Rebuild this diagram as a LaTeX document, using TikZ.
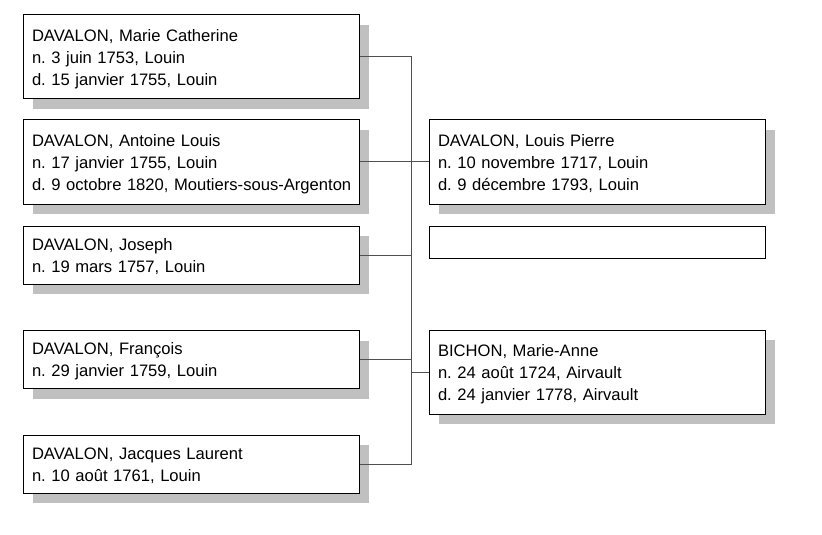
\documentclass[tikz,border=0pt]{standalone}
\usepackage{fontspec}
\setmainfont{Liberation Sans}
\usetikzlibrary{shadows}

\definecolor{shadowgray}{RGB}{192,192,192}
\definecolor{linkgray}{RGB}{80,80,80}

\tikzset{every picture/.style={line width=0.75pt}}
\tikzset{
  person/.style={draw=black, fill=white, line width=0.75pt, minimum width=252pt, text width=238.5pt,
    inner xsep=6.75pt, inner ysep=0pt, align=left,
    font=\fontsize{12.45pt}{16.5pt}\selectfont,
    execute at begin node={\frenchspacing\exhyphenpenalty=10000\hyphenpenalty=10000\rule{0pt}{12pt}}},
  shadowed/.style={drop shadow={shadow xshift=7.5pt, shadow yshift=-7.5pt, fill=shadowgray, opacity=1}},
  link/.style={draw=linkgray, line width=0.75pt},
}

\begin{document}
\begin{tikzpicture}[x=0.75pt,y=0.75pt,yscale=-1,xscale=1]
    \useasboundingbox (0,0) rectangle (822,535);

    % Children
    \node [person, shadowed, minimum height=63pt] (c1) at (191,57) {DAVALON, Marie Catherine\\n. 3 juin 1753, Louin\\d. 15 janvier 1755, Louin};
    \node [person, shadowed, minimum height=63pt] (c2) at (191,162) {DAVALON, Antoine Louis\\n. 17 janvier 1755, Louin\\\mbox{d. 9 octobre 1820, Moutiers-sous-Argenton}};
    \node [person, shadowed, minimum height=43.5pt] (c3) at (191,255) {DAVALON, Joseph\\n. 19 mars 1757, Louin};
    \node [person, shadowed, minimum height=43.5pt] (c4) at (191,359.5) {DAVALON, François\\n. 29 janvier 1759, Louin};
    \node [person, shadowed, minimum height=43.5pt] (c5) at (191,464) {DAVALON, Jacques Laurent\\n. 10 août 1761, Louin};

    % Parents
    \node [person, shadowed, minimum height=63pt] (pa) at (597,162) {DAVALON, Louis Pierre\\n. 10 novembre 1717, Louin\\d. 9 décembre 1793, Louin};
    \node [person, minimum height=24pt] (un) at (597,242) {};
    \node [person, shadowed, minimum height=63pt] (mo) at (597,372) {BICHON, Marie-Anne\\n. 24 août 1724, Airvault\\d. 24 janvier 1778, Airvault};

    % Connectors
    \coordinate (sp) at (411,0);
    \draw [link] (c1.east) -- (c1.east -| sp) -- (c5.east -| sp) -- (c5.east);
    \draw [link] (c2.east) -- (pa.west);
    \draw [link] (c3.east) -- (c3.east -| sp);
    \draw [link] (c4.east) -- (c4.east -| sp);
    \draw [link] (mo.west) -- (mo.west -| sp);

\end{tikzpicture}
\end{document}
